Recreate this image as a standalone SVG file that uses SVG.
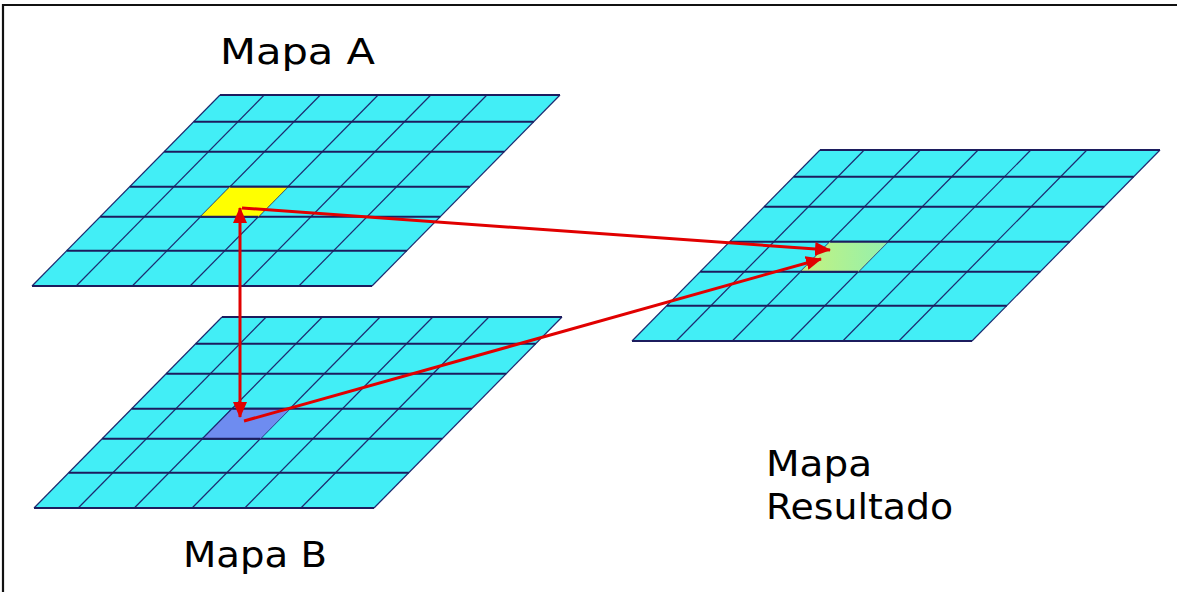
<svg xmlns="http://www.w3.org/2000/svg" xmlns:xlink="http://www.w3.org/1999/xlink" width="1177" height="592" viewBox="0 0 1177 592">
  <style>
    .bg { fill: #ffffff; }
    .frame { stroke: #111111; stroke-width: 2.2; fill: none; }
    .plate { fill: #42eef6; stroke: none; }
    .hline { stroke: #1c1c5e; stroke-width: 2; fill: none; }
    .sline { stroke: #1c2a70; stroke-width: 1.2; fill: none; }
    .lbl { font-family: "DejaVu Sans", "Liberation Sans", sans-serif; font-size: 36px; fill: #000000; }
    .arrow { stroke: #e10000; stroke-width: 3; fill: none; }
    .cell-a { fill: #ffff00; }
    .cell-b { fill: #6e8cf0; }
    .cell-r { fill: url(#greenGrad); }
  </style>
  <defs>
    <linearGradient id="greenGrad" x1="0" y1="0" x2="1" y2="0">
      <stop offset="0" stop-color="#c4f27e"/>
      <stop offset="1" stop-color="#94f0ae"/>
    </linearGradient>
    <marker id="ah" viewBox="0 0 16 14" refX="15" refY="7" markerWidth="16" markerHeight="14" markerUnits="userSpaceOnUse" orient="auto-start-reverse">
      <path d="M0,0 L16,7 L0,14 z" fill="#e10000"/>
    </marker>
    <g id="grid">
      <polygon class="plate" points="0,0 340,0 152,191 -188,191"/>
      <g class="sline">
        <line x1="0" y1="0" x2="-188" y2="191"/>
        <line x1="44.2" y1="0" x2="-143.8" y2="191"/>
        <line x1="100.3" y1="0" x2="-87.7" y2="191"/>
        <line x1="158.1" y1="0" x2="-29.9" y2="191"/>
        <line x1="210.8" y1="0" x2="22.8" y2="191"/>
        <line x1="266.9" y1="0" x2="78.9" y2="191"/>
        <line x1="340" y1="0" x2="152" y2="191"/>
      </g>
      <g class="hline">
        <line x1="0" y1="0" x2="340" y2="0"/>
        <line x1="-26.3" y1="26.7" x2="313.7" y2="26.7"/>
        <line x1="-55.8" y1="56.7" x2="284.2" y2="56.7"/>
        <line x1="-90.2" y1="91.7" x2="249.8" y2="91.7"/>
        <line x1="-119.8" y1="121.7" x2="220.2" y2="121.7"/>
        <line x1="-153.2" y1="155.7" x2="186.8" y2="155.7"/>
        <line x1="-188" y1="191" x2="152" y2="191"/>
      </g>
    </g>
  </defs>

  <rect class="bg" x="0" y="0" width="1177" height="592"/>
  <path class="frame" d="M3,592 L3,5 L1177,5"/>

  <g id="mapa-a" transform="translate(220,95)">
    <use xlink:href="#grid" href="#grid"/>
    <polygon class="cell-a" points="10.1,91.7 67.9,91.7 38.3,121.7 -19.5,121.7"/>
    <g class="hline"><line x1="10.1" y1="91.7" x2="67.9" y2="91.7"/><line x1="-19.5" y1="121.7" x2="38.3" y2="121.7"/></g>
  </g>

  <g id="mapa-b" transform="translate(222,317)">
    <use xlink:href="#grid" href="#grid"/>
    <polygon class="cell-b" points="10.1,91.7 67.9,91.7 38.3,121.7 -19.5,121.7"/>
    <g class="hline"><line x1="10.1" y1="91.7" x2="67.9" y2="91.7"/><line x1="-19.5" y1="121.7" x2="38.3" y2="121.7"/></g>
    <line class="sline" x1="10.1" y1="91.7" x2="-19.5" y2="121.7" stroke-width="2"/>
  </g>

  <g id="mapa-resultado" transform="translate(820,150)">
    <use xlink:href="#grid" href="#grid"/>
    <polygon class="cell-r" points="10.1,91.7 67.9,91.7 38.3,121.7 -19.5,121.7"/>
    <g class="hline"><line x1="10.1" y1="91.7" x2="67.9" y2="91.7"/><line x1="-19.5" y1="121.7" x2="38.3" y2="121.7"/></g>
  </g>

  <g id="connectors">
    <line class="arrow" x1="240" y1="208" x2="240" y2="417" marker-start="url(#ah)" marker-end="url(#ah)"/>
    <line class="arrow" x1="242" y1="208" x2="830" y2="250" marker-end="url(#ah)"/>
    <line class="arrow" x1="244" y1="421" x2="821" y2="259" marker-end="url(#ah)"/>
  </g>

  <g id="labels">
    <text class="lbl" x="220" y="64" textLength="155" lengthAdjust="spacingAndGlyphs">Mapa A</text>
    <text class="lbl" x="183" y="567" textLength="144" lengthAdjust="spacingAndGlyphs">Mapa B</text>
    <text class="lbl" x="766" y="476" textLength="106" lengthAdjust="spacingAndGlyphs">Mapa</text>
    <text class="lbl" x="766" y="519" textLength="187" lengthAdjust="spacingAndGlyphs">Resultado</text>
  </g>
</svg>
